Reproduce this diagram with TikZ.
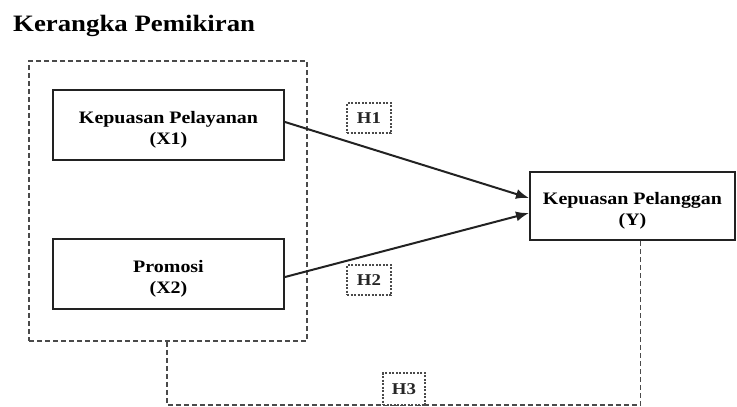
\documentclass[tikz,border=0pt]{standalone}
\usepackage{fontspec}
\setmainfont{Liberation Serif}[FakeStretch=1.14]
\usetikzlibrary{arrows.meta}
\definecolor{ln}{HTML}{222222}
\definecolor{dl}{HTML}{4A4A4A}
\newcommand{\lowstrut}{\rule{0pt}{21pt}}
\tikzset{
  varbox/.style={draw=ln, line width=2pt, inner sep=0pt, align=center,
    font=\fontsize{17.5}{21}\selectfont\bfseries, text=black},
  grpbox/.style={draw=dl, line width=1.7pt, dash pattern=on 5pt off 3pt, inner sep=0pt},
  hbox/.style={draw=dl, line width=1.2pt, dash pattern=on 2pt off 1.5pt, inner sep=0pt,
    minimum width=44pt, minimum height=30pt, font=\fontsize{16.5}{18}\selectfont\bfseries,
    text=black!85, fill=white},
  dline/.style={draw=dl, line width=1.7pt, dash pattern=on 5pt off 3pt},
  arr/.style={draw=ln, line width=2pt, -{Latex[length=13pt,width=10pt]}},
}
\begin{document}
\begin{tikzpicture}[x=1pt,y=-1pt]
\useasboundingbox (0,0) rectangle (737,407);
\node[anchor=base west, font=\fontsize{23.5}{28}\selectfont\bfseries, inner sep=0pt] (title) at (13,31) {Kerangka Pemikiran};
\node[grpbox, minimum width=278pt, minimum height=280pt] (grp) at (168,201) {};
\node[varbox, minimum width=231pt, minimum height=70pt] (x1) at (168.5,125) {\lowstrut Kepuasan Pelayanan\\(X1)};
\node[varbox, minimum width=231pt, minimum height=70pt] (x2) at (168.5,274) {\lowstrut Promosi\\(X2)};
\node[varbox, minimum width=205pt, minimum height=68pt] (y) at (632.5,206) {\lowstrut Kepuasan Pelanggan\\(Y)};
\draw[arr] ([yshift=3pt]x1.east) -- ([yshift=8pt]y.west);
\draw[arr] ([yshift=-3pt]x2.east) -- ([yshift=-7pt]y.west);
\coordinate (c3) at (167,405);
\draw[dline] (grp.south -| c3) -- (c3) -| ([xshift=8pt]y.south);
\node[hbox] (h1) at (369,118) {H1};
\node[hbox] (h2) at (369,280) {H2};
\node[hbox, minimum width=42pt, minimum height=32pt] (h3) at (404,389) {H3};
\end{tikzpicture}
\end{document}
